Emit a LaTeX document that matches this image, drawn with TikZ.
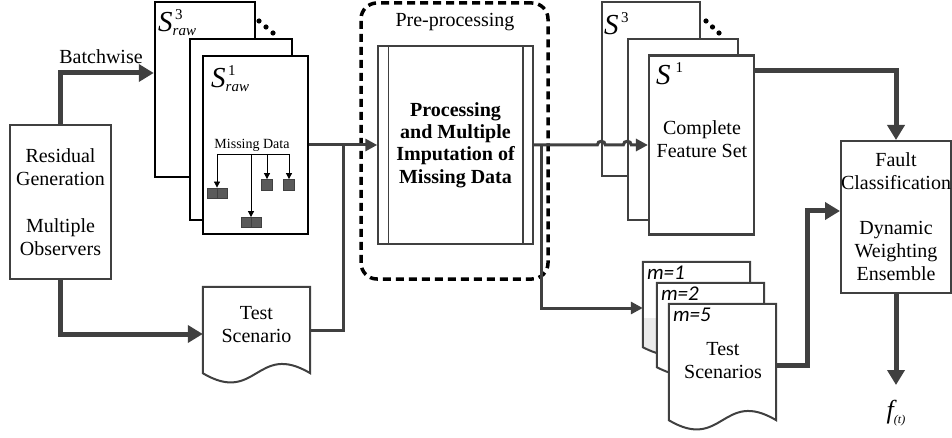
\documentclass[tikz,border=0pt]{standalone}
\usepackage{fontspec}
\setmainfont{Liberation Serif}
\newfontfamily\calib{Carlito}
\usetikzlibrary{arrows.meta,calc}
\definecolor{dk}{HTML}{404040}
\definecolor{cellfill}{HTML}{5A5A5A}
\newcommand{\wavepath}[2]{(#1.south west) -- (#1.north west) -- (#1.north east) -- (#1.south east) .. controls ($(#1.south)+(0,-#2)$) and ($(#1.south)+(0,#2)$) .. (#1.south west) -- cycle}
\newcommand{\smallfs}{\fontsize{15}{15}\selectfont}
\begin{document}
\begin{tikzpicture}[x=1pt,y=-1pt,
  every node/.style={inner sep=0pt, align=center, font=\fontsize{20}{23}\selectfont},
  blk/.style={draw=dk, line width=2pt, fill=white, rectangle},
  rawdoc/.style={draw=black, line width=2.5pt, fill=white},
  fsdoc/.style={draw=dk, line width=1.4pt, fill=white},
  docline/.style={draw=dk, line width=2pt},
  bigarrow/.style={draw=dk, line width=5pt, -{Triangle[length=15pt,width=17pt]}},
  medarrow/.style={draw=dk, line width=3pt, -{Triangle[length=12pt,width=12pt]}},
  medline/.style={draw=dk, line width=3pt},
  tinyarrow/.style={draw=black, line width=0.8pt, -{Triangle[length=6pt,width=6pt]}},
  cell/.style={draw=dk, fill=cellfill, line width=0.8pt, minimum height=10pt},
  slabel/.style={anchor=base west, font=\itshape\fontsize{29}{30}\selectfont},
  mlabel/.style={anchor=north west, font=\calib\itshape\fontsize{21}{22}\selectfont},
  dot/.style={fill=black},
]
\useasboundingbox (0,0) rectangle (952,438);

% left block
\node[blk, minimum width=101pt, minimum height=154pt] (res) at (60.5,202)
  {Residual\\Generation\\[24pt]Multiple\\Observers};
\node (bw) at (101,57) {Batchwise};

% raw data stack
\node[rawdoc, minimum width=100pt, minimum height=175pt] (sraw3) at (205,89.5) {};
\node[slabel] (s3r) at (158,32) {S\rlap{\raisebox{12pt}{\upshape\smallfs\,3}}\raisebox{-4pt}{\smallfs raw}};
\fill[dot] (259,21) circle[radius=2.6];
\fill[dot] (266,27) circle[radius=2.6];
\fill[dot] (273,33) circle[radius=2.6];
\node[rawdoc, minimum width=102pt, minimum height=181pt] (sraw2) at (241,129.5) {};
\node[rawdoc, minimum width=105pt, minimum height=178pt] (sraw1) at (255.5,145) {};
\node[slabel] (s1r) at (211,88) {S\rlap{\raisebox{12pt}{\upshape\smallfs\,1}}\raisebox{-4pt}{\smallfs raw}};

% missing data tree
\node[font=\fontsize{14}{16}\selectfont] (md) at (252,145) {Missing Data};
\coordinate (mdl) at (217,154);
\coordinate (mdr) at (289,154);
\node[cell, minimum width=20pt] (mb1) at (217,193) {};
\node[cell, minimum width=20pt] (mb2) at (251,222.5) {};
\node[cell, minimum width=11pt, minimum height=11pt] (mb3) at (267,185) {};
\node[cell, minimum width=11pt, minimum height=11pt] (mb4) at (289,185) {};
\draw[dk, line width=0.6pt] (mb1.north) -- (mb1.south);
\draw[dk, line width=0.6pt] (mb2.north) -- (mb2.south);
\draw[black, line width=0.8pt] (mdl) -- (mdr);
\draw[tinyarrow] (mdl) -- (mb1.north);
\draw[tinyarrow] (mb2.north |- mdl) -- (mb2.north);
\draw[tinyarrow] (mb3.north |- mdl) -- (mb3.north);
\draw[tinyarrow] (mdr) -- (mb4.north);

% test scenario
\node[minimum width=107pt, minimum height=86pt] (ts) at (256.5,330) {};
\filldraw[docline, fill=white] \wavepath{ts}{32};
\node (tstext) at (256.5,325) {Test\\Scenario};

% pre-processing
\node[draw=black, line width=3.5pt, dash pattern=on 8pt off 5pt, rounded corners=16pt,
  minimum width=187pt, minimum height=276pt] (pre) at (454.5,141) {};
\node (pretitle) at (455,22) {Pre-processing};
\node[draw=dk, line width=1.5pt, fill=white, minimum width=155pt, minimum height=198pt,
  font=\bfseries\fontsize{20}{22.3}\selectfont] (proc) at (455.5,145)
  {Processing\\and Multiple\\Imputation of\\Missing Data};
\draw[dk, line width=1.5pt] ($(proc.north west)+(11,0)$) -- ($(proc.south west)+(11,0)$);
\draw[dk, line width=1.5pt] ($(proc.north east)+(-11,0)$) -- ($(proc.south east)+(-11,0)$);

% feature set stack
\node[fsdoc, minimum width=98pt, minimum height=174pt] (fs3) at (651,89) {};
\node[slabel] (fs3l) at (604,35) {S\raisebox{12pt}{\upshape\smallfs\,3}};
\fill[dot] (706,21) circle[radius=2.6];
\fill[dot] (712.5,27) circle[radius=2.6];
\fill[dot] (719,33) circle[radius=2.6];
\node[fsdoc, minimum width=110pt, minimum height=181pt] (fs2) at (683,129.5) {};
\node[fsdoc, line width=2.2pt, minimum width=105pt, minimum height=179pt] (fs1) at (701.5,145) {};
\node[slabel] (fs1l) at (656,85) {S\raisebox{12pt}{\upshape\smallfs\,\,1}};
\node (fstext) at (702,139.5) {Complete\\Feature Set};

% multiple test scenarios
\node[minimum width=107pt, minimum height=85pt] (m1) at (696.5,304.5) {};
\node[minimum width=107pt, minimum height=84pt] (m2) at (710.5,325) {};
\node[minimum width=107pt, minimum height=116pt] (m5) at (722.5,362) {};
\fill[white] \wavepath{m1}{28};
\begin{scope}
  \clip \wavepath{m1}{28};
  \fill[black!8] ($(m1.west)+(0,13.5)$) rectangle ($(m1.south east)+(0,30)$);
\end{scope}
\draw[docline] \wavepath{m1}{28};
\node[mlabel] (m1t) at ($(m1.north west)+(4,4)$) {m=1};
\filldraw[docline, fill=white] \wavepath{m2}{28};
\node[mlabel] (m2t) at ($(m2.north west)+(4,4)$) {m=2};
\filldraw[docline, fill=white] \wavepath{m5}{32};
\node[mlabel] (m5t) at ($(m5.north west)+(4,4)$) {m=5};
\node (m5text) at (723,360.5) {Test\\Scenarios};

% fault classification
\node[blk, minimum width=110pt, minimum height=152pt] (fault) at (896,217)
  {Fault\\Classification\\[22pt]Dynamic\\Weighting\\Ensemble};
\node[anchor=north, font=\itshape\fontsize{26}{28}\selectfont] (fo) at (896,400) {f\raisebox{-5pt}{\fontsize{12}{12}\selectfont(\textit{t})}};

% connectors
\draw[bigarrow] (res.north) |- ($(sraw3.west)+(0,-16.5)$);
\draw[bigarrow] (res.south) |- ($(ts.west)+(0,4)$);
\coordinate (jn) at ($(sraw1.east)!0.5!(proc.west)$);
\draw[medarrow] (sraw1.east) -- (proc.west);
\draw[medline] (ts.east) -| (jn);
\draw[medarrow] (proc.east) -- ($(fs3.west |- proc.east)+(-4,0)$)
  to[out=90,in=90,looseness=1.6] ($(fs3.west |- proc.east)+(4,0)$)
  -- ($(fs2.west |- proc.east)+(-4,0)$)
  to[out=90,in=90,looseness=1.6] ($(fs2.west |- proc.east)+(4,0)$)
  -- (fs1.west);
\draw[medarrow] ($(proc.east)+(8,0)$) |- ($(m1.west)+(0,3.5)$);
\draw[bigarrow] ($(fs1.north east)+(0,16)$) -| (fault.north);
\draw[bigarrow] ($(m5.east)+(0,3)$) -- ++(31,0) |- ($(fault.west)+(0,-6)$);
\draw[bigarrow, shorten >=15pt] (fault.south) -- (fo.north);
\end{tikzpicture}
\end{document}
